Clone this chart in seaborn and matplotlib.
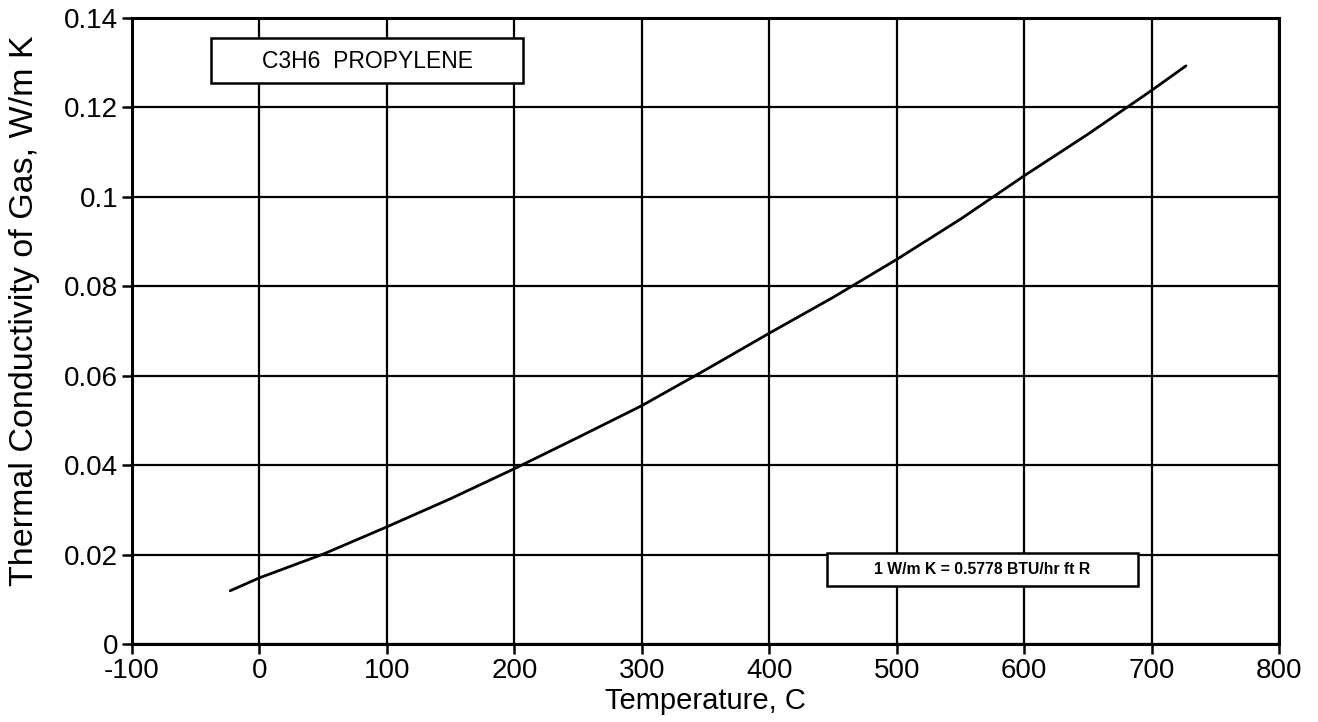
import matplotlib
matplotlib.use("Agg")
import matplotlib.pyplot as plt
from matplotlib.patches import Rectangle
import pandas as pd
import seaborn as sns

# values
temperature_c = [-23, 0, 50, 100, 150, 200, 250, 300, 350, 400, 450, 500, 550, 600, 650, 700, 727]
conductivity = [0.0119, 0.0148, 0.0201, 0.0262, 0.0325, 0.0392, 0.0462, 0.0533, 0.0613,
                0.0695, 0.0775, 0.0860, 0.0950, 0.1047, 0.1140, 0.1238, 0.1293]
x_ticks = [-100, 0, 100, 200, 300, 400, 500, 600, 700, 800]
y_ticks = [0, 0.02, 0.04, 0.06, 0.08, 0.1, 0.12, 0.14]
y_tick_labels = ["0", "0.02", "0.04", "0.06", "0.08", "0.1", "0.12", "0.14"]

sns.set_style("ticks")
plt.rcParams["font.family"] = ["Liberation Sans", "DejaVu Sans"]
plt.rcParams["text.color"] = "black"
plt.rcParams["axes.labelcolor"] = "black"

df = pd.DataFrame({"T": temperature_c, "k": conductivity})

fig = plt.figure(figsize=(13.18, 7.22), dpi=100)
ax = fig.add_axes([132 / 1318, 78 / 722, 1147 / 1318, 626 / 722])

sns.lineplot(data=df, x="T", y="k", ax=ax, color="black", linewidth=2)

ax.set_xlim(-100, 800)
ax.set_ylim(0, 0.14)
ax.set_xticks(x_ticks)
ax.set_xticklabels([str(t) for t in x_ticks])
ax.set_yticks(y_ticks)
ax.set_yticklabels(y_tick_labels)
ax.grid(True, color="black", linewidth=1.6)
for s in ax.spines.values():
    s.set_color("black")
    s.set_linewidth(2.2)
ax.tick_params(axis="both", labelsize=20, length=7, width=1.8, color="black",
               labelcolor="black")
ax.tick_params(axis="x", pad=3)
ax.tick_params(axis="y", pad=3)

ax.set_xlabel("Temperature, C", fontsize=21, labelpad=2)
ax.set_ylabel("Thermal Conductivity of Gas, W/m K", fontsize=24.5)
ax.yaxis.set_label_coords(-0.080, 0.532)

# label boxes
box1 = Rectangle((0.069, 0.896), 0.272, 0.072, transform=ax.transAxes,
                 facecolor="white", edgecolor="black", linewidth=1.8, zorder=5)
ax.add_patch(box1)
ax.text(0.205, 0.930, "C3H6  PROPYLENE", transform=ax.transAxes, ha="center", va="center",
        fontsize=16.5, zorder=6)

box2 = Rectangle((0.606, 0.093), 0.271, 0.052, transform=ax.transAxes,
                 facecolor="white", edgecolor="black", linewidth=1.8, zorder=5)
ax.add_patch(box2)
ax.text(0.7415, 0.119, "1 W/m K = 0.5778 BTU/hr ft R", transform=ax.transAxes, ha="center",
        va="center", fontsize=11.3, fontweight="bold", zorder=6)

fig.savefig("out.png", dpi=100)
